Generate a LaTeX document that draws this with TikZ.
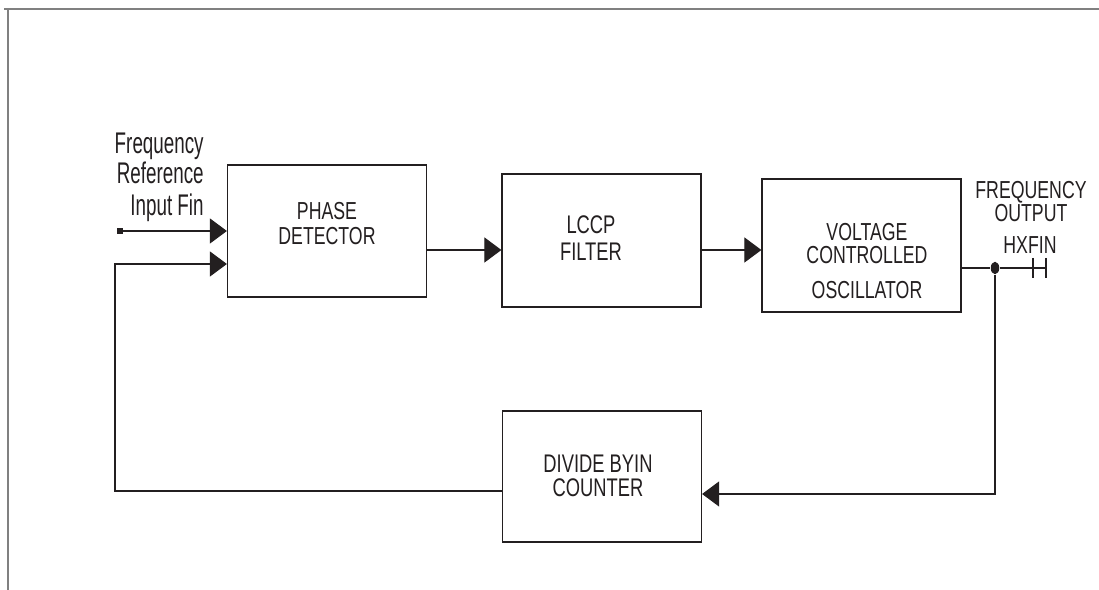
\documentclass[tikz,border=0pt]{standalone}
\usepackage{fontspec}
\setmainfont{Liberation Sans}[FakeStretch=0.72]
\newfontfamily\narrowsans{Liberation Sans}[FakeStretch=0.63]
\usetikzlibrary{arrows.meta, shapes.geometric}
\definecolor{frameGray}{RGB}{128,128,128}
\definecolor{inkBlack}{RGB}{35,31,32}

\begin{document}
\begin{tikzpicture}[
  x=0.02cm, y=-0.02cm,
  block/.style={rectangle, draw=inkBlack, line width=0.7pt, minimum width=3.98cm,
                minimum height=2.64cm, inner sep=0pt},
  lbl/.style={inner sep=0pt, align=center, text=inkBlack, anchor=north},
  arrow/.style={-{Triangle[length=0.34cm, width=0.5cm]}, line width=0.6pt, inkBlack},
  wire/.style={line width=0.6pt, inkBlack}
]
  \useasboundingbox (0,0) rectangle (1099,590);

  % Rahmen
  \draw[frameGray, line width=1.2pt] (4,9) -- (1099,9);
  \draw[frameGray, line width=1.2pt] (8,9) -- (8,590);

  % Bloecke
  \node[block] (pd)  at (327,231) {};
  \node[block, minimum height=2.66cm] (lf)  at (601.5,240.5) {};
  \node[block, minimum height=2.66cm] (vco) at (861.5,245.5) {};
  \node[block, minimum height=2.62cm] (div) at (602,476.5) {};

  % Beschriftungen
  \node[lbl, font=\fontsize{14}{14.2}\selectfont] (pdtxt) at (327,202) {PHASE\\DETECTOR};
  \node[lbl, font=\fontsize{14.5}{15.3}\selectfont] (lftxt) at (591,215) {LCCP\\FILTER};
  \node[lbl, font=\fontsize{14}{12.8}\selectfont] (vcotxt) at (867,223) {VOLTAGE\\CONTROLLED\\[7.5pt]OSCILLATOR};
  \node[lbl, font=\fontsize{14.5}{13.6}\selectfont] (divtxt) at (598,455) {DIVIDE BYIN\\COUNTER};
  \node[lbl, font=\fontsize{14}{12.8}\selectfont] (outtxt) at (1031,181) {FREQUENCY\\OUTPUT};
  \node[lbl, font=\fontsize{14}{12.5}\selectfont] (hxtxt) at (1030,236) {HXFIN};
  \node[lbl, anchor=north east, align=right, font=\narrowsans\fontsize{17}{14.2}\selectfont]
       (fintxt) at (204,133) {Frequency\\Reference\\[4pt]Input Fin};

  % Anschluesse
  \node[fill=inkBlack, minimum size=0.12cm, inner sep=0pt] (fin) at (120,231) {};
  \node[ellipse, fill=inkBlack, minimum width=0.17cm, minimum height=0.25cm, inner sep=0pt] (jn) at (995,268) {};
  \coordinate (fout) at (1046,268);

  % Verbindungen
  \draw[arrow] (fin) -- (pd.west |- fin);
  \draw[arrow] (div.west |- 0,491) -| (115,264) -- (pd.west |- 0,264);
  \draw[arrow] (pd.east |- 0,250) -- (lf.west |- 0,250);
  \draw[arrow] (lf.east |- 0,250) -- (vco.west |- 0,250);
  \draw[wire] (vco.east |- jn) -- (jn) -- (fout);
  \draw[wire] ([xshift=-0.26cm]fout) ++(0,-10) -- ++(0,20);
  \draw[wire] (fout) ++(0,-10) -- ++(0,20);
  \draw[arrow] (jn) |- (div.east |- 0,494);
\end{tikzpicture}
\end{document}
